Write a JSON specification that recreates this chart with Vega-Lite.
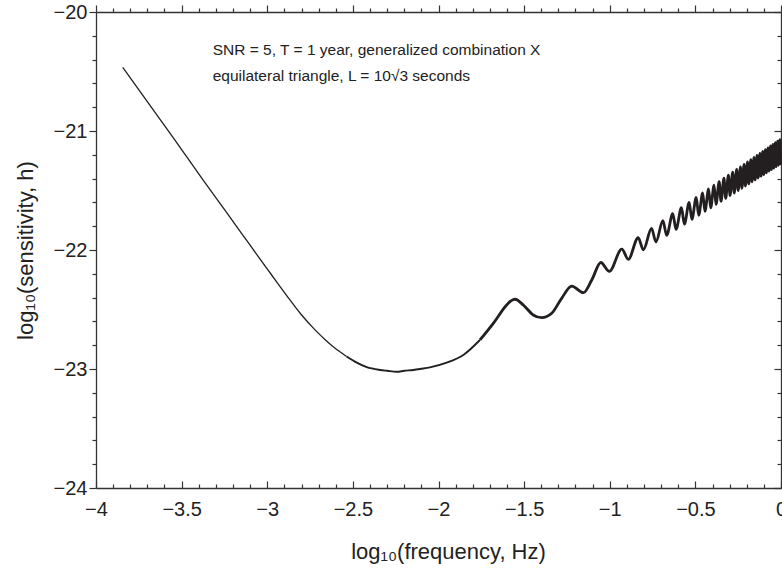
{
  "$schema": "https://vega.github.io/schema/vega-lite/v6.json",
  "width": 685,
  "height": 476,
  "autosize": "none",
  "padding": {"left": 96, "top": 12, "right": 1, "bottom": 80},
  "background": "white",
  "config": {
    "font": "Liberation Sans",
    "view": {"stroke": null},
    "axis": {
      "domainColor": "#333333",
      "domainWidth": 1.3,
      "tickColor": "#333333",
      "tickWidth": 1.2,
      "grid": false,
      "labelColor": "#222222",
      "titleColor": "#222222",
      "labelFont": "Liberation Sans",
      "titleFont": "Liberation Sans",
      "labelFontSize": 20,
      "titleFontSize": 22,
      "titleFontWeight": "normal",
      "labelFlush": false,
      "labelOverlap": false
    }
  },
  "datasets": {
    "curve": [
      {"x": -3.844, "y": -20.465},
      {"x": -3.539, "y": -21.076},
      {"x": -3.368, "y": -21.426},
      {"x": -3.241, "y": -21.678},
      {"x": -3.143, "y": -21.874},
      {"x": -3.066, "y": -22.028},
      {"x": -2.997, "y": -22.165},
      {"x": -2.939, "y": -22.28},
      {"x": -2.881, "y": -22.393},
      {"x": -2.803, "y": -22.54},
      {"x": -2.725, "y": -22.665},
      {"x": -2.657, "y": -22.76},
      {"x": -2.6, "y": -22.83},
      {"x": -2.536, "y": -22.895},
      {"x": -2.48, "y": -22.945},
      {"x": -2.419, "y": -22.985},
      {"x": -2.342, "y": -23.008},
      {"x": -2.3, "y": -23.015},
      {"x": -2.244, "y": -23.023},
      {"x": -2.2, "y": -23.015},
      {"x": -2.147, "y": -23.008},
      {"x": -2.1, "y": -22.998},
      {"x": -2.05, "y": -22.986},
      {"x": -1.952, "y": -22.947},
      {"x": -1.855, "y": -22.882},
      {"x": -1.758, "y": -22.756},
      {"x": -1.68, "y": -22.616},
      {"x": -1.602, "y": -22.462},
      {"x": -1.575, "y": -22.425},
      {"x": -1.553, "y": -22.414},
      {"x": -1.505, "y": -22.462},
      {"x": -1.447, "y": -22.546},
      {"x": -1.397, "y": -22.569},
      {"x": -1.339, "y": -22.532},
      {"x": -1.281, "y": -22.406},
      {"x": -1.222, "y": -22.303},
      {"x": -1.154, "y": -22.359},
      {"x": -1.105, "y": -22.252},
      {"x": -1.052, "y": -22.105},
      {"x": -1.0025, "y": -22.18},
      {"x": -0.9295, "y": -21.992},
      {"x": -0.8917, "y": -22.078},
      {"x": -0.8341, "y": -21.897},
      {"x": -0.8035, "y": -21.998},
      {"x": -0.7559, "y": -21.819},
      {"x": -0.7302, "y": -21.932},
      {"x": -0.6897, "y": -21.753},
      {"x": -0.6675, "y": -21.876},
      {"x": -0.6322, "y": -21.695},
      {"x": -0.6128, "y": -21.827},
      {"x": -0.5815, "y": -21.645},
      {"x": -0.5641, "y": -21.783},
      {"x": -0.5361, "y": -21.6},
      {"x": -0.5204, "y": -21.743},
      {"x": -0.495, "y": -21.559},
      {"x": -0.4807, "y": -21.708},
      {"x": -0.4574, "y": -21.521},
      {"x": -0.4443, "y": -21.675},
      {"x": -0.4228, "y": -21.487},
      {"x": -0.4107, "y": -21.645},
      {"x": -0.3908, "y": -21.455},
      {"x": -0.3795, "y": -21.617},
      {"x": -0.361, "y": -21.425},
      {"x": -0.3505, "y": -21.591},
      {"x": -0.3331, "y": -21.397},
      {"x": -0.3232, "y": -21.566},
      {"x": -0.3069, "y": -21.371},
      {"x": -0.2976, "y": -21.543},
      {"x": -0.2821, "y": -21.346},
      {"x": -0.2733, "y": -21.521},
      {"x": -0.2587, "y": -21.323},
      {"x": -0.2504, "y": -21.5},
      {"x": -0.2365, "y": -21.301},
      {"x": -0.2286, "y": -21.481},
      {"x": -0.2154, "y": -21.28},
      {"x": -0.2078, "y": -21.462},
      {"x": -0.1953, "y": -21.26},
      {"x": -0.1881, "y": -21.444},
      {"x": -0.176, "y": -21.241},
      {"x": -0.1691, "y": -21.427},
      {"x": -0.1576, "y": -21.222},
      {"x": -0.151, "y": -21.411},
      {"x": -0.1399, "y": -21.205},
      {"x": -0.1336, "y": -21.395},
      {"x": -0.123, "y": -21.188},
      {"x": -0.1168, "y": -21.38},
      {"x": -0.1066, "y": -21.171},
      {"x": -0.1007, "y": -21.366},
      {"x": -0.0909, "y": -21.156},
      {"x": -0.0852, "y": -21.352},
      {"x": -0.0757, "y": -21.141},
      {"x": -0.0702, "y": -21.338},
      {"x": -0.061, "y": -21.126},
      {"x": -0.0557, "y": -21.325},
      {"x": -0.0468, "y": -21.112},
      {"x": -0.0416, "y": -21.312},
      {"x": -0.033, "y": -21.098},
      {"x": -0.028, "y": -21.3},
      {"x": -0.0197, "y": -21.085},
      {"x": -0.0148, "y": -21.288},
      {"x": -0.0067, "y": -21.072},
      {"x": -0.0021, "y": -21.277},
      {"x": 0, "y": -21.2}
    ],
    "notes": [
      {"x": -3.3186, "y": -20.36, "label": "SNR = 5, T = 1 year, generalized combination X"},
      {"x": -3.3186, "y": -20.58, "label": "equilateral triangle, L = 10√3 seconds"}
    ]
  },
  "layer": [
    {
      "data": {"name": "curve"},
      "transform": [{"filter": "datum.x <= -2.536"}],
      "mark": {"type": "line", "color": "#231f20", "strokeWidth": 1.3, "interpolate": "monotone"},
      "encoding": {
        "x": {
          "field": "x", "type": "quantitative",
          "scale": {"domain": [-4, 0], "nice": false, "zero": false},
          "axis": {
            "orient": "bottom",
            "values": [-4, -3.9, -3.8, -3.7, -3.6, -3.5, -3.4, -3.3, -3.2, -3.1, -3, -2.9, -2.8, -2.7, -2.6, -2.5, -2.4, -2.3, -2.2, -2.1, -2, -1.9, -1.8, -1.7, -1.6, -1.5, -1.4, -1.3, -1.2, -1.1, -1, -0.9, -0.8, -0.7, -0.6, -0.5, -0.4, -0.3, -0.2, -0.1, 0],
            "labelExpr": "abs(datum.value*2-round(datum.value*2))<0.001 ? format(datum.value,'~g') : ''",
            "tickSize": {"condition": {"test": "abs(datum.value*2-round(datum.value*2))<0.001", "value": -7}, "value": -4},
            "labelPadding": 18,
            "title": "log₁₀(frequency, Hz)",
            "titleX": 352,
            "titleY": 70,
            "titleBaseline": "alphabetic"
          }
        },
        "y": {
          "field": "y", "type": "quantitative",
          "scale": {"domain": [-24, -20], "nice": false, "zero": false},
          "axis": {
            "orient": "left",
            "values": [-24, -23.8, -23.6, -23.4, -23.2, -23, -22.8, -22.6, -22.4, -22.2, -22, -21.8, -21.6, -21.4, -21.2, -21, -20.8, -20.6, -20.4, -20.2, -20],
            "labelExpr": "abs(datum.value-round(datum.value))<0.001 ? format(datum.value,'~g') : ''",
            "tickSize": {"condition": {"test": "abs(datum.value-round(datum.value))<0.001", "value": 7}, "value": 4},
            "labelPadding": 2,
            "title": "log₁₀(sensitivity, h)",
            "titleX": -64,
            "titleBaseline": "alphabetic"
          }
        }
      }
    },
    {
      "data": {"name": "curve"},
      "transform": [{"filter": "datum.x >= -2.536 && datum.x <= -1.758"}],
      "mark": {"type": "line", "color": "#231f20", "strokeWidth": 1.9, "interpolate": "monotone"},
      "encoding": {
        "x": {"field": "x", "type": "quantitative", "scale": {"domain": [-4, 0], "nice": false, "zero": false}, "axis": null},
        "y": {"field": "y", "type": "quantitative", "scale": {"domain": [-24, -20], "nice": false, "zero": false}, "axis": null}
      }
    },
    {
      "data": {"name": "curve"},
      "transform": [{"filter": "datum.x >= -1.758"}],
      "mark": {"type": "line", "color": "#231f20", "strokeWidth": 2.8, "interpolate": "monotone"},
      "encoding": {
        "x": {"field": "x", "type": "quantitative", "scale": {"domain": [-4, 0], "nice": false, "zero": false}, "axis": null},
        "y": {"field": "y", "type": "quantitative", "scale": {"domain": [-24, -20], "nice": false, "zero": false}, "axis": null}
      }
    },
    {
      "data": {"name": "notes"},
      "mark": {"type": "text", "align": "left", "baseline": "alphabetic", "font": "Liberation Sans", "fontSize": 15.5, "color": "#222222"},
      "encoding": {
        "x": {
          "field": "x", "type": "quantitative",
          "scale": {"domain": [-4, 0], "nice": false, "zero": false},
          "axis": {
            "orient": "top",
            "values": [-4, -3.9, -3.8, -3.7, -3.6, -3.5, -3.4, -3.3, -3.2, -3.1, -3, -2.9, -2.8, -2.7, -2.6, -2.5, -2.4, -2.3, -2.2, -2.1, -2, -1.9, -1.8, -1.7, -1.6, -1.5, -1.4, -1.3, -1.2, -1.1, -1, -0.9, -0.8, -0.7, -0.6, -0.5, -0.4, -0.3, -0.2, -0.1, 0],
            "labels": false,
            "title": null,
            "tickSize": {"condition": {"test": "abs(datum.value*2-round(datum.value*2))<0.001", "value": 7}, "value": 4}
          }
        },
        "y": {
          "field": "y", "type": "quantitative",
          "scale": {"domain": [-24, -20], "nice": false, "zero": false},
          "axis": {
            "orient": "right",
            "values": [-24, -23.8, -23.6, -23.4, -23.2, -23, -22.8, -22.6, -22.4, -22.2, -22, -21.8, -21.6, -21.4, -21.2, -21, -20.8, -20.6, -20.4, -20.2, -20],
            "labels": false,
            "title": null,
            "tickSize": {"condition": {"test": "abs(datum.value-round(datum.value))<0.001", "value": -7}, "value": -4}
          }
        },
        "text": {"field": "label", "type": "nominal"}
      }
    }
  ],
  "resolve": {"axis": {"x": "independent", "y": "independent"}}
}
